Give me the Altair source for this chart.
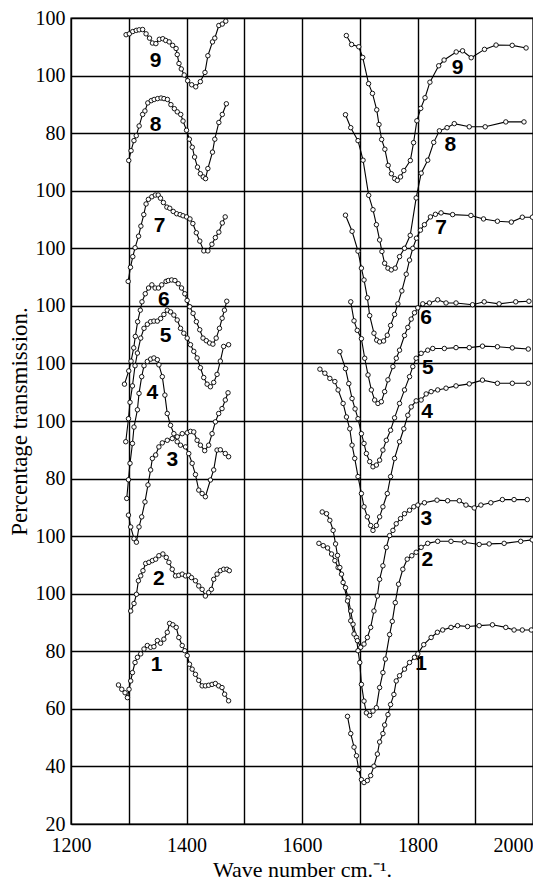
import altair as alt
import pandas as pd

# ---- axis values / labels ----
y_tick_values = [20, 40, 60, 80, 100, 120, 140, 160, 180, 200, 220, 240, 260, 280, 300]
y_tick_labels = ["20", "40", "60", "80", "100", "100", "80", "100", "100", "100", "100", "100", "80", "100", "100"]
x_grid_values = [1200, 1300, 1400, 1500, 1600, 1700, 1800, 1900, 2000]
x_label_values = [1200, 1400, 1600, 1800, 2000]

# ---- curves (wave number, stacked position) ----
c1_left = [(1282.2,68.3),(1287.9,66.8),(1293.6,65.6),(1297.7,63.9),(1300.5,66.8),(1303.4,69.7),(1306.4,72.6),(1310.9,76.1),(1315.0,77.9),(1320.7,79.1),(1326.4,80.8),(1332.2,82.0),(1337.9,81.4),(1343.6,81.6),(1349.5,83.7),(1355.2,82.8),(1360.8,84.2),(1366.7,86.6),(1370.7,89.7),(1376.4,89.2),(1382.2,88.3),(1386.7,84.8),(1392.6,82.0),(1397.1,80.2),(1401.2,78.5),(1405.2,75.5),(1409.8,73.8),(1415.5,72.0),(1421.2,69.9),(1427.1,68.0),(1432.7,68.0),(1438.4,68.2),(1444.3,68.5),(1450.0,68.8),(1455.7,68.0),(1461.5,67.4),(1466.0,65.1),(1472.9,62.8)]
c1_right = [(1678.8,57.4),(1684.4,51.4),(1690.1,46.7),(1694.3,43.7),(1698.2,38.9),(1702.9,35.4),(1707.4,34.4),(1713.2,35.1),(1718.9,36.8),(1724.6,40.1),(1730.5,44.3),(1734.4,48.5),(1740.1,51.4),(1743.1,54.4),(1748.8,58.0),(1753.4,61.5),(1759.1,65.0),(1763.2,69.7),(1768.9,71.5),(1777.5,73.8),(1786.2,76.1),(1794.8,77.9),(1800.5,79.1),(1810.8,82.3),(1823.6,84.8),(1834.4,86.6),(1843.6,87.4),(1858.0,88.3),(1869.4,88.9),(1886.7,88.6),(1906.8,88.9),(1929.8,89.2),(1952.9,88.3),(1967.2,87.4),(1981.5,87.4),(1997.0,87.4)]

c2_left = [(1303.4,94.0),(1309.1,96.6),(1313.3,99.8),(1316.7,104.5),(1320.7,106.2),(1324.6,108.0),(1329.3,110.5),(1335.0,110.9),(1340.9,111.5),(1346.6,112.0),(1352.2,113.2),(1359.1,113.8),(1365.0,112.6),(1369.5,110.9),(1375.3,108.5),(1381.0,106.2),(1386.7,106.4),(1392.6,106.8),(1398.3,106.2),(1403.9,106.4),(1408.6,105.6),(1415.5,104.5),(1421.2,102.7),(1427.1,101.5),(1432.7,99.2),(1438.4,100.4),(1443.1,101.5),(1447.1,105.0),(1452.9,106.8),(1458.6,108.0),(1464.3,108.5),(1470.1,108.5),(1474.1,108.0)]
c2_right = [(1629.3,117.5),(1636.7,116.7),(1644.3,115.9),(1651.2,113.8),(1656.9,111.5),(1662.5,109.1),(1668.4,106.8),(1675.3,102.1),(1679.8,98.6),(1684.4,94.0),(1688.4,89.4),(1694.3,84.8),(1697.0,80.2),(1700.0,76.1),(1702.9,68.5),(1707.4,62.7),(1711.5,58.6),(1717.2,57.7),(1722.9,59.2),(1728.8,60.4),(1734.4,67.4),(1740.1,72.6),(1744.3,77.3),(1751.7,85.8),(1756.3,90.4),(1761.5,96.9),(1767.2,103.3),(1774.6,108.5),(1782.2,112.0),(1790.1,113.2),(1797.7,114.4),(1806.3,116.1),(1817.7,117.5),(1835.0,118.2),(1858.0,118.2),(1881.0,117.9),(1906.8,117.1),(1924.1,117.3),(1950.0,117.5),(1978.7,118.2),(1998.7,118.7)]

c3_left = [(1299.5,127.3),(1303.4,123.2),(1309.1,119.1),(1313.3,117.9),(1317.8,123.2),(1322.4,126.7),(1328.1,131.9),(1333.3,137.8),(1337.9,143.0),(1340.9,147.0),(1346.6,148.2),(1352.2,151.0),(1358.1,152.4),(1366.7,153.3),(1375.3,153.9),(1384.0,154.5),(1392.6,155.6),(1401.2,155.9),(1406.9,156.4),(1412.6,156.2),(1418.4,153.3),(1424.1,151.6),(1431.5,149.7),(1438.4,151.6),(1444.3,155.6),(1450.0,159.7),(1455.7,162.6),(1461.5,164.3),(1467.2,167.3),(1471.9,169.8)]
c3_right = [(1635.0,128.4),(1642.5,127.8),(1648.2,125.5),(1653.9,122.0),(1658.1,117.3),(1661.5,113.3),(1665.5,109.1),(1671.2,103.9),(1678.8,97.5),(1684.4,90.6),(1690.1,86.0),(1696.0,83.7),(1701.7,81.4),(1707.4,82.5),(1713.2,84.8),(1718.9,88.3),(1724.6,94.0),(1730.5,99.2),(1734.4,105.0),(1740.1,109.7),(1746.0,116.1),(1751.7,120.2),(1757.4,122.0),(1763.2,124.3),(1770.6,126.1),(1777.5,127.8),(1786.2,129.0),(1793.6,130.2),(1800.5,130.8),(1812.0,131.6),(1833.8,132.5),(1852.2,132.3),(1872.4,132.3),(1883.9,130.8),(1898.2,129.8),(1909.8,130.8),(1927.0,131.6),(1947.0,132.7),(1967.2,132.7),(1990.1,132.7)]

c4_left = [(1296.5,133.1),(1299.5,139.6),(1302.2,145.3),(1306.4,152.2),(1309.1,157.9),(1315.0,163.9),(1317.8,169.6),(1322.4,175.4),(1326.4,179.2),(1332.2,180.7),(1337.9,181.5),(1343.6,181.9),(1349.5,181.3),(1352.2,179.5),(1358.1,175.4),(1362.6,169.0),(1366.7,162.6),(1372.4,158.5),(1378.1,155.6),(1383.9,152.8),(1389.6,151.6),(1398.3,151.0),(1403.9,148.7),(1409.8,145.3),(1415.5,141.4),(1421.2,136.0),(1427.1,134.8),(1432.7,133.7),(1441.4,139.5),(1447.1,143.0),(1452.9,149.9),(1458.6,150.0),(1467.2,148.7),(1472.9,147.6)]
c4_right = [(1631.0,178.0),(1639.6,176.6),(1648.2,174.8),(1656.9,173.7),(1662.5,170.8),(1671.2,166.1),(1677.0,161.4),(1682.7,157.3),(1686.7,151.6),(1691.3,147.0),(1697.0,140.7),(1702.9,134.8),(1707.4,130.2),(1713.2,126.7),(1718.9,123.7),(1722.9,122.0),(1728.8,123.7),(1734.4,126.7),(1740.1,130.2),(1747.7,134.8),(1753.4,140.7),(1760.3,147.0),(1768.9,152.8),(1776.3,157.3),(1783.2,162.0),(1789.1,164.9),(1797.7,167.0),(1806.3,167.3),(1815.0,169.4),(1823.6,170.2),(1835.0,170.8),(1849.4,171.4),(1866.7,172.2),(1889.6,172.9),(1912.5,174.2),(1938.4,173.1),(1964.2,173.1),(1991.8,173.1)]

c5_left = [(1294.8,152.8),(1299.5,160.8),(1302.2,166.5),(1306.4,172.2),(1310.9,179.2),(1315.0,183.6),(1320.7,188.8),(1326.4,192.2),(1332.2,193.6),(1337.9,194.5),(1343.6,194.7),(1349.5,194.7),(1355.2,195.6),(1360.8,197.0),(1366.7,198.5),(1372.4,197.9),(1378.1,196.8),(1383.9,195.1),(1389.6,192.2),(1395.3,190.5),(1401.2,188.8),(1406.9,186.5),(1412.6,184.2),(1418.4,181.9),(1424.1,178.5),(1429.8,175.1),(1435.7,172.8),(1441.4,171.9),(1447.1,173.4),(1452.9,176.2),(1458.6,180.8),(1464.3,185.9),(1472.9,186.5)]
c5_right = [(1665.5,184.1),(1675.3,178.2),(1681.0,173.0),(1686.7,167.8),(1691.9,164.2),(1697.0,160.8),(1702.9,155.6),(1707.4,152.2),(1711.5,148.7),(1717.2,145.9),(1722.9,144.1),(1728.8,144.7),(1734.4,146.4),(1740.1,149.9),(1746.0,153.3),(1753.4,156.8),(1760.3,161.1),(1768.9,166.1),(1777.5,170.8),(1786.2,175.4),(1791.8,178.9),(1797.7,181.8),(1806.3,183.5),(1817.7,184.6),(1826.4,185.2),(1846.5,185.2),(1866.7,185.5),(1889.6,185.5),(1912.5,186.0),(1938.4,185.8),(1964.2,185.4),(1991.8,185.0)]

c6_left = [(1292.6,172.8),(1300.0,177.4),(1304.0,180.8),(1308.6,185.4),(1311.4,189.4),(1315.4,194.5),(1320.0,198.5),(1322.9,201.4),(1328.6,204.2),(1334.3,206.2),(1340.0,207.3),(1345.7,206.2),(1351.4,206.2),(1357.1,207.3),(1364.6,208.5),(1368.6,208.8),(1374.3,209.0),(1380.0,208.8),(1385.7,207.7),(1391.4,206.2),(1397.1,204.2),(1401.1,201.9),(1405.7,199.7),(1411.4,197.4),(1417.1,194.5),(1422.9,191.7),(1428.6,188.8),(1434.3,187.9),(1440.0,187.1),(1445.7,186.7),(1451.4,188.8),(1457.1,192.2),(1461.7,195.7),(1465.7,198.5),(1469.7,201.6)]
c6_right = [(1684.4,201.4),(1690.1,194.8),(1695.7,191.5),(1702.9,188.6),(1708.6,181.8),(1714.3,176.0),(1720.1,170.8),(1725.8,167.3),(1731.5,166.1),(1737.4,166.7),(1743.1,170.2),(1748.8,174.3),(1757.4,178.9),(1763.3,181.8),(1768.9,184.6),(1777.5,189.7),(1783.2,192.5),(1789.1,195.4),(1794.8,197.6),(1800.5,199.3),(1809.1,200.7),(1820.6,201.0),(1835.0,202.1),(1849.4,201.0),(1866.7,201.0),(1895.3,200.4),(1915.5,201.4),(1941.3,200.7),(1970.1,201.4),(1993.0,201.6)]

c7_left = [(1299.0,208.5),(1303.0,213.4),(1307.0,217.1),(1311.0,220.2),(1317.0,224.2),(1321.0,227.7),(1326.0,231.7),(1330.0,235.4),(1334.0,237.0),(1340.0,237.9),(1346.0,238.5),(1351.0,238.5),(1355.0,237.4),(1360.0,235.9),(1366.0,234.3),(1371.0,233.9),(1377.0,232.8),(1383.0,232.0),(1389.0,231.7),(1394.0,231.3),(1400.0,230.9),(1406.0,230.2),(1411.0,228.6),(1417.0,225.4),(1423.0,222.5),(1430.0,219.1),(1437.0,219.1),(1444.0,221.4),(1450.0,223.7),(1456.0,225.6),(1462.0,228.8),(1467.0,230.9)]
c7_right = [(1675.3,231.5),(1686.7,225.9),(1697.0,219.0),(1702.9,213.1),(1707.4,209.0),(1713.2,202.8),(1717.2,196.6),(1724.6,190.5),(1729.3,188.1),(1734.4,187.5),(1741.3,187.8),(1747.7,189.8),(1753.4,193.2),(1760.3,197.0),(1766.0,200.7),(1772.9,205.2),(1780.5,211.0),(1786.2,215.9),(1791.9,220.0),(1798.2,223.5),(1805.1,226.3),(1812.0,228.2),(1822.4,230.9),(1831.0,231.8),(1840.8,232.3),(1860.8,231.7),(1892.5,231.4),(1914.3,230.2),(1938.4,229.4),(1962.5,229.1),(1981.5,230.8),(1999.0,230.8)]

c8_left = [(1300.0,250.5),(1304.0,253.9),(1309.0,257.4),(1313.0,259.1),(1318.0,262.5),(1324.0,266.5),(1328.0,267.7),(1333.0,270.5),(1339.0,271.3),(1344.0,271.7),(1350.0,272.0),(1356.0,272.2),(1361.0,272.0),(1367.0,271.7),(1373.0,269.9),(1379.0,268.5),(1384.0,267.4),(1390.0,266.5),(1394.0,264.2),(1400.0,261.0),(1405.0,257.9),(1410.0,255.1),(1414.0,251.7),(1419.0,248.2),(1424.0,245.9),(1429.0,244.8),(1433.0,244.2),(1437.0,247.7),(1445.0,253.4),(1449.0,257.9),(1456.0,263.7),(1462.0,266.5),(1469.0,270.2)]
c8_right = [(1675.3,266.4),(1684.4,261.9),(1697.0,257.4),(1705.7,250.6),(1715.5,238.4),(1722.9,233.4),(1728.8,228.2),(1734.4,222.9),(1738.4,218.9),(1743.1,214.8),(1748.8,213.1),(1754.6,212.5),(1761.5,213.1),(1768.9,217.1),(1777.5,220.0),(1787.4,224.5),(1797.7,237.5),(1806.4,246.1),(1817.7,250.6),(1828.1,256.8),(1837.9,260.8),(1851.2,261.9),(1863.7,263.3),(1889.6,262.2),(1917.2,262.2),(1952.9,263.9),(1984.4,263.9)]

c9_left = [(1295.4,294.2),(1301.0,294.5),(1307.0,295.3),(1313.0,295.7),(1318.0,295.9),(1324.0,296.0),(1330.0,294.5),(1336.0,293.0),(1341.0,291.3),(1347.0,291.1),(1353.0,292.6),(1359.0,292.8),(1364.0,292.2),(1370.0,291.7),(1376.0,290.5),(1382.0,289.4),(1384.0,287.3),(1387.0,284.2),(1391.0,282.3),(1396.0,280.2),(1402.0,278.2),(1409.0,276.8),(1416.0,276.1),(1424.0,277.9),(1432.0,281.1),(1437.0,286.9),(1445.0,291.7),(1449.0,293.0),(1456.0,297.4),(1462.0,297.9),(1468.0,298.9)]
c9_right = [(1676.8,293.9),(1685.9,290.8),(1698.3,290.0),(1705.1,286.3),(1715.3,277.2),(1722.0,273.8),(1729.4,268.1),(1733.3,263.0),(1737.9,257.8),(1743.5,254.4),(1749.2,248.8),(1754.8,245.9),(1760.5,244.2),(1765.0,243.6),(1770.6,244.8),(1776.3,247.0),(1787.6,250.5),(1793.2,256.7),(1798.9,264.3),(1805.6,268.6),(1813.0,272.3),(1821.5,277.7),(1836.7,283.4),(1846.0,285.4),(1867.0,288.2),(1878.0,288.6),(1893.0,286.2),(1916.0,289.1),(1936.0,290.6),(1964.0,290.5),(1988.0,289.6)]

curve_names = ["1", "2", "3", "4", "5", "6", "7", "8", "9"]
left_segments = [c1_left, c2_left, c3_left, c4_left, c5_left, c6_left, c7_left, c8_left, c9_left]
right_segments = [c1_right, c2_right, c3_right, c4_right, c5_right, c6_right, c7_right, c8_right, c9_right]

# curve number labels
label_left_x = [1348.3, 1352.2, 1375.3, 1340.9, 1363.8, 1360.9, 1353.4, 1346.6, 1346.6]
label_left_y = [75.1, 105.0, 146.4, 169.6, 189.7, 202.2, 227.7, 262.7, 285.1]
label_right_x = [1806.3, 1817.2, 1815.5, 1816.7, 1817.7, 1815.0, 1840.8, 1856.8, 1869.4]
label_right_y = [75.5, 111.8, 126.0, 163.2, 178.4, 195.8, 227.0, 256.0, 282.5]

rows = []
for name, segs in zip(curve_names, zip(left_segments, right_segments)):
    for side, seg in zip(["L", "R"], segs):
        for i, (xv, yv) in enumerate(seg):
            rows.append({"x": xv, "y": yv, "series": name + side, "i": i})
df = pd.DataFrame(rows)

lab_rows = []
for n, lx, ly, rx, ry in zip(curve_names, label_left_x, label_left_y, label_right_x, label_right_y):
    lab_rows.append({"x": lx, "y": ly, "t": n})
    lab_rows.append({"x": rx, "y": ry, "t": n})
labels = pd.DataFrame(lab_rows)

y_label_expr = "[" + ",".join("'" + s + "'" for s in y_tick_labels) + "][round((datum.value - 20) / 20)]"
x_label_expr = "indexof([" + ",".join(str(v) for v in x_label_values) + "], datum.value) >= 0 ? datum.label : ''"

x_enc = alt.X(
    "x:Q",
    scale=alt.Scale(domain=[1200, 2000], nice=False, zero=False),
    axis=alt.Axis(
        values=x_grid_values, format="d", labelExpr=x_label_expr,
        title="Wave number cm.\u207b\u00b9.",
        labelAlign=alt.condition("datum.value >= 2000", alt.value("right"), alt.value("center")),
        labelPadding=11, titlePadding=4, titleFontSize=22,
    ),
)
y_enc = alt.Y(
    "y:Q",
    scale=alt.Scale(domain=[20, 300], nice=False, zero=False),
    axis=alt.Axis(
        values=y_tick_values, labelExpr=y_label_expr,
        title="Percentage transmission.", labelPadding=6, titlePadding=4, titleFontSize=23,
    ),
)

base = alt.Chart(df)
lines = base.mark_line(color="black", strokeWidth=1.1, clip=True).encode(
    x=x_enc, y=y_enc, detail="series:N", order="i:Q"
)
points = base.mark_point(
    shape="circle", filled=True, fill="white", stroke="black", strokeWidth=0.9, size=20, opacity=1, clip=True
).encode(x="x:Q", y="y:Q")
texts = alt.Chart(labels).mark_text(
    font="Liberation Sans", fontWeight="bold", fontSize=21, color="black"
).encode(x="x:Q", y="y:Q", text="t:N")

chart = (
    alt.layer(lines, points, texts)
    .properties(
        width=462, height=806,
        autosize=alt.AutoSizeParams(type="none"),
        padding={"left": 63, "top": 10, "right": 0, "bottom": 56},
        background="white",
    )
    .configure_axis(
        grid=True, gridColor="black", gridWidth=1.4, gridOpacity=1,
        domain=False, ticks=False, tickSize=0,
        labelFont="Liberation Serif", labelFontSize=20, labelColor="black",
        titleFont="Liberation Serif", titleFontWeight="normal", titleColor="black",
    )
    .configure_view(stroke="black", strokeWidth=1.4)
)

chart.save("out.html", embed_options={"renderer": "svg", "actions": False})
